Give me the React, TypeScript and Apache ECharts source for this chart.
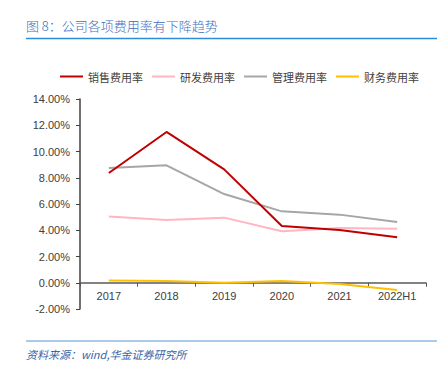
import React, { useEffect, useRef } from "react";
import * as echarts from "echarts";

const categories = ["2017", "2018", "2019", "2020", "2021", "2022H1"];
const salesRate = [8.36, 11.49, 8.64, 4.32, 4.02, 3.46];
const rdRate = [5.04, 4.78, 4.96, 3.92, 4.17, 4.12];
const mgmtRate = [8.74, 8.95, 6.76, 5.44, 5.19, 4.63];
const finRate = [0.18, 0.13, 0.0, 0.13, -0.1, -0.55];
const seriesNames = ["销售费用率", "研发费用率", "管理费用率", "财务费用率"];
const colors = ["#C00000", "#FFB6C1", "#A6A6A6", "#FFC000"];
const titleText = "图 8：公司各项费用率有下降趋势";
const sourceText = "资料来源：wind,华金证券研究所";

const Y_MIN = -2;
const Y_MAX = 14;

export default function App() {
  const ref = useRef<HTMLDivElement>(null);
  useEffect(() => {
    if (!ref.current) return;
    const chart = echarts.init(ref.current, null, { renderer: "svg" });
    const data = [salesRate, rdRate, mgmtRate, finRate];
    const gridTop = 99;
    const gridBottom = 63;
    const plotH = 372 - gridTop - gridBottom;
    const zeroOffset = (plotH * (0 - Y_MIN)) / (Y_MAX - Y_MIN);
    chart.setOption({
      animation: false,
      color: colors,
      textStyle: { fontFamily: "'Noto Sans CJK SC', sans-serif" },
      legend: {
        left: 55,
        top: 66,
        icon: "rect",
        itemWidth: 23,
        itemHeight: 2,
        itemGap: 9,
        textStyle: { fontSize: 11, color: "#404040", fontFamily: "'Noto Sans CJK SC', sans-serif" },
        data: seriesNames,
      },
      grid: { left: 80, right: 21, top: gridTop, bottom: gridBottom },
      xAxis: {
        type: "category",
        data: categories,
        boundaryGap: true,
        offset: -zeroOffset,
        axisLine: { onZero: false, lineStyle: { color: "#595959", width: 1.5 } },
        axisTick: { show: true, inside: false, length: 4, lineStyle: { color: "#595959" } },
        axisLabel: { fontSize: 11, color: "#404040", margin: 8, fontFamily: "'Liberation Sans', sans-serif" },
      },
      yAxis: {
        type: "value",
        min: Y_MIN,
        max: Y_MAX,
        interval: 2,
        axisLine: { show: true, lineStyle: { color: "#404040", width: 1.5 } },
        axisTick: { show: true, length: 4, lineStyle: { color: "#404040" } },
        splitLine: { show: false },
        axisLabel: {
          fontSize: 11,
          color: "#404040",
          margin: 10,
          fontFamily: "'Liberation Sans', sans-serif",
          formatter: (v: number) => v.toFixed(2) + "%",
        },
      },
      series: data.map((d, i) => ({
        name: seriesNames[i],
        type: "line",
        data: d,
        symbol: "none",
        lineStyle: { width: 2, color: colors[i] },
        z: 4 - i,
      })),
      graphic: [
        {
          type: "text",
          left: 26,
          top: 19,
          style: {
            text: titleText,
            fontSize: 13,
            fill: "#3A6FC0",
            fontFamily: "'Noto Sans CJK SC', sans-serif",
            fontWeight: 300,
          },
        },
        {
          type: "line",
          shape: { x1: 26, y1: 38.5, x2: 437, y2: 38.5 },
          style: { stroke: "#2E8BD6", lineWidth: 1.5 },
        },
        {
          type: "line",
          shape: { x1: 26, y1: 341, x2: 437, y2: 341 },
          style: { stroke: "#8DB8E0", lineWidth: 1.5 },
        },
        {
          type: "text",
          left: 26,
          top: 348,
          style: {
            text: sourceText,
            fontSize: 11,
            fontStyle: "italic",
            fill: "#3A64A8",
            fontFamily: "'Noto Sans CJK SC', sans-serif",
          },
        },
      ],
    });
    return () => chart.dispose();
  }, []);
  return <div ref={ref} style={{ width: 447, height: 372, position: "absolute", left: 0, top: 0 }} />;
}
